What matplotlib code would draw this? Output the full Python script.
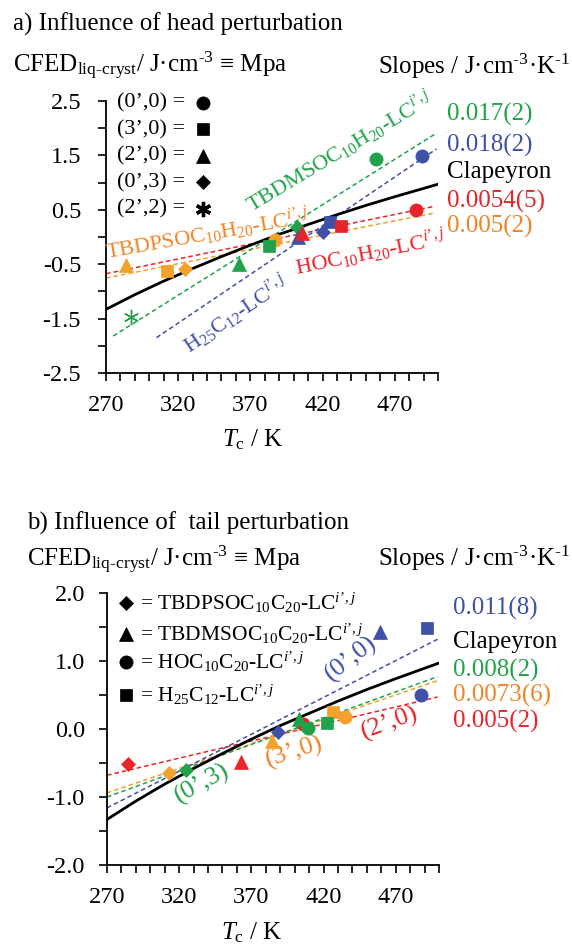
import numpy as np
import matplotlib
matplotlib.use('Agg')
import matplotlib.pyplot as plt

plt.rcParams['font.family'] = ['Liberation Serif', 'DejaVu Serif']
plt.rcParams['mathtext.fontset'] = 'custom'
plt.rcParams['mathtext.rm'] = 'Liberation Serif'
plt.rcParams['mathtext.it'] = 'Liberation Serif:italic'
plt.rcParams['mathtext.bf'] = 'Liberation Serif:bold'
plt.rcParams['axes.unicode_minus'] = False

# ============================================================================
# data
# ============================================================================

GREEN = '#1fa24a'
BLUE = '#3f50a6'
RED = '#e8232a'
ORANGE = '#f2a22c'
ORANGE_TXT = '#f28424'

# Clapeyron curve (same in both panels)
clap_T = [270, 290, 310, 330, 350, 370, 390, 410, 430, 450, 470, 500]
clap_y = [-1.33, -1.06, -0.81, -0.58, -0.36, -0.15, 0.05, 0.23, 0.41, 0.58, 0.74, 0.97]

# --- a) head perturbation: colour = compound, marker = perturbation
a_orange_T = [284, 312.6, 324.8, 387]
a_orange_y = [-0.51, -0.63, -0.59, -0.06]
a_orange_m = ['^', 's', 'D', 'o']

a_green_T = [287, 362, 383, 402, 457]
a_green_y = [-1.47, -0.49, -0.16, 0.18, 1.44]
a_green_m = ['*', '^', 's', 'D', 'o']

a_blue_T = [403, 420, 425, 489]
a_blue_y = [0.0, 0.10, 0.28, 1.48]
a_blue_m = ['^', 'D', 's', 'o']

a_red_T = [406, 432.5, 485]
a_red_y = [0.07, 0.20, 0.50]
a_red_m = ['^', 's', 'o']

# fitted lines (start / end)
a_fit_green = ([275, 499], [-1.82, 1.91])
a_fit_blue = ([305, 499], [-1.85, 1.62])
a_fit_red = ([270, 498], [-0.675, 0.566])
a_fit_orange = ([270, 498], [-0.754, 0.444])

a_legend_labels = ['(0’,0) =', '(3’,0) =', '(2’,0) =', '(0’,3) =', '(2’,2) =']
a_legend_markers = ['o', 's', '^', 'D', '*']

a_slopes = ['0.017(2)', '0.018(2)', 'Clapeyron', '0.0054(5)', '0.005(2)']
a_slope_colors = [GREEN, BLUE, 'black', RED, ORANGE_TXT]

# --- b) tail perturbation: colour = perturbation, marker = compound
b_red_T = [284.8, 363, 406]
b_red_y = [-0.52, -0.49, 0.08]
b_red_m = ['D', '^', 'o']

b_orange_T = [313, 384, 426.4, 435]
b_orange_y = [-0.64, -0.18, 0.25, 0.17]
b_orange_m = ['D', '^', 's', 'o']

b_green_T = [325, 403.3, 409.5, 422.3]
b_green_y = [-0.60, 0.14, 0.02, 0.09]
b_green_m = ['D', '^', 'o', 's']

b_blue_T = [388.3, 459.2, 487.4, 491.5]
b_blue_y = [-0.04, 1.43, 0.50, 1.48]
b_blue_m = ['D', '^', 'o', 's']

b_fit_blue = ([270, 499], [-1.16, 1.32])
b_fit_green = ([270, 499], [-1.00, 0.77])
b_fit_orange = ([270, 499], [-0.94, 0.71])
b_fit_red = ([270, 499], [-0.68, 0.47])

b_legend_labels = ['= TBDPSOC$_{10}$C$_{20}$-LC$^{i’,j}$',
                   '= TBDMSOC$_{10}$C$_{20}$-LC$^{i’,j}$',
                   '= HOC$_{10}$C$_{20}$-LC$^{i’,j}$',
                   '= H$_{25}$C$_{12}$-LC$^{i’,j}$']
b_legend_markers = ['D', '^', 'o', 's']

b_slopes = ['0.011(8)', 'Clapeyron', '0.008(2)', '0.0073(6)', '0.005(2)']
b_slope_colors = [BLUE, 'black', GREEN, ORANGE_TXT, RED]

# ============================================================================
# helpers
# ============================================================================

W, H = 572, 944


def fx(px):
    return px / W


def fy(py):
    return 1 - py / H


def marker_kw(m, color, thin=True):
    if m == '*':
        return dict(marker=(6, 2, 0), ms=11, mew=1.0 if thin else 2.4,
                    mec=color, mfc=color)
    size = {'o': 9.5, 's': 9, '^': 9.5, 'D': 7.5}[m]
    return dict(marker=m, ms=size, mec=color, mfc=color, mew=0.5)


def draw_points(ax, T, y, markers, color):
    for t, v, m in zip(T, y, markers):
        ax.plot([t], [v], linestyle='none', zorder=4, **marker_kw(m, color))


def style_axes(ax, ymin, ymax, ymajor, yminor, ypad):
    ax.set_xlim(270, 500)
    ax.set_ylim(ymin, ymax)
    for s in ['top', 'right']:
        ax.spines[s].set_visible(False)
    for s in ['left', 'bottom']:
        ax.spines[s].set_linewidth(1.3)
    ax.set_xticks([270, 320, 370, 420, 470])
    ax.set_xticks(np.arange(270, 501, 10), minor=True)
    ax.set_yticks(ymajor)
    ax.set_yticklabels([f'{v:.1f}' for v in ymajor])
    ax.set_yticks(yminor, minor=True)
    ax.tick_params(which='both', direction='out', length=6, width=1.2,
                   labelsize=17.5)
    ax.tick_params(axis='x', which='both', pad=10)
    ax.tick_params(axis='y', which='both', pad=ypad)


fig = plt.figure(figsize=(W / 100, H / 100), dpi=100)

# ============================================================================
# a) Influence of head perturbation
# ============================================================================

ax = fig.add_axes([fx(106), fy(373), 332 / W, 272 / H])
style_axes(ax, -2.5, 2.5, [-2.5, -1.5, -0.5, 0.5, 1.5, 2.5],
           [-2.0, -1.0, 0.0, 1.0, 2.0], 12)

for (xs, ys), c in [(a_fit_red, RED), (a_fit_orange, ORANGE),
                    (a_fit_green, GREEN), (a_fit_blue, BLUE)]:
    ax.plot(xs, ys, color=c, lw=1.1, ls=(0, (3, 2)), zorder=2)
ax.plot(clap_T, clap_y, color='black', lw=2.0, zorder=3)

draw_points(ax, a_orange_T, a_orange_y, a_orange_m, ORANGE)
draw_points(ax, a_green_T, a_green_y, a_green_m, GREEN)
draw_points(ax, a_blue_T, a_blue_y, a_blue_m, BLUE)
draw_points(ax, a_red_T, a_red_y, a_red_m, RED)

# legend (text then marker)
for i, (lab, m) in enumerate(zip(a_legend_labels, a_legend_markers)):
    yy = 0.993 - 0.0975 * i
    ax.text(0.033, yy, lab, transform=ax.transAxes, fontsize=16,
            ha='left', va='center')
    ax.plot([0.292], [yy], transform=ax.transAxes, clip_on=False,
            linestyle='none', **marker_kw(m, 'black', thin=False))

# compound labels along the lines
ax.text(432, 1.56, 'TBDMSOC$_{10}$H$_{20}$-LC$^{i’,j}$', color=GREEN,
        fontsize=16, rotation=31, ha='center', va='center', rotation_mode='anchor')
ax.text(340, 0.06, 'TBDPSOC$_{10}$H$_{20}$-LC$^{i’,j}$', color=ORANGE_TXT,
        fontsize=16, rotation=10, ha='center', va='center', rotation_mode='anchor')
ax.text(360, -1.43, 'H$_{25}$C$_{12}$-LC$^{i’,j}$', color=BLUE,
        fontsize=16, rotation=34, ha='center', va='center', rotation_mode='anchor')
ax.text(453, -0.30, 'HOC$_{10}$H$_{20}$-LC$^{i’,j}$', color=RED,
        fontsize=16, rotation=11.5, ha='center', va='center', rotation_mode='anchor')

for i, (lab, c) in enumerate(zip(a_slopes, a_slope_colors)):
    yy = [0.949, 0.838, 0.739, 0.629, 0.537][i]
    ax.text(1.027, yy, lab, transform=ax.transAxes, color=c, fontsize=18,
            ha='left', va='center')

fig.text(fx(13), fy(24), 'a) Influence of head perturbation', fontsize=18,
         ha='left', va='center')
fig.text(fx(13), fy(66), 'CFED$_{\\mathrm{liq‐cryst}}$/ J·cm$^{\\mathrm{‐3}}$ ≡ Mpa',
         fontsize=18, ha='left', va='center')
fig.text(fx(570), fy(66), 'Slopes / J·cm$^{\\mathrm{‐3}}$·K$^{\\mathrm{‐1}}$',
         fontsize=18, ha='right', va='center')
fig.text(fx(253), fy(440), '$T_{\\mathrm{c}}$ / K', fontsize=18,
         ha='center', va='center')

# ============================================================================
# b) Influence of tail perturbation
# ============================================================================

ax = fig.add_axes([fx(107), fy(865), 332 / W, 272 / H])
style_axes(ax, -2.0, 2.0, [-2.0, -1.0, 0.0, 1.0, 2.0],
           [-1.5, -0.5, 0.5, 1.5], 10)

for (xs, ys), c in [(b_fit_red, RED), (b_fit_orange, ORANGE),
                    (b_fit_green, GREEN), (b_fit_blue, BLUE)]:
    ax.plot(xs, ys, color=c, lw=1.1, ls=(0, (3, 2)), zorder=2)
ax.plot(clap_T, clap_y, color='black', lw=2.0, zorder=3)

draw_points(ax, b_red_T, b_red_y, b_red_m, RED)
draw_points(ax, b_orange_T, b_orange_y, b_orange_m, ORANGE)
draw_points(ax, b_green_T, b_green_y, b_green_m, GREEN)
draw_points(ax, b_blue_T, b_blue_y, b_blue_m, BLUE)

# legend (marker then text)
for i, (lab, m) in enumerate(zip(b_legend_labels, b_legend_markers)):
    yy = [0.963, 0.849, 0.746, 0.625][i]
    ax.plot([0.057], [yy], transform=ax.transAxes, clip_on=False,
            linestyle='none', **marker_kw(m, 'black', thin=False))
    ax.text(0.100, yy, lab, transform=ax.transAxes, fontsize=15.5,
            ha='left', va='center')

ax.text(439, 1.04, '(0’,0)', color=BLUE, fontsize=19, rotation=38,
        ha='center', va='center', rotation_mode='anchor')
ax.text(465.6, 0.09, '(2’,0)', color=RED, fontsize=19, rotation=20,
        ha='center', va='center', rotation_mode='anchor')
ax.text(399.6, -0.33, '(3’,0)', color=ORANGE_TXT, fontsize=19, rotation=18,
        ha='center', va='center', rotation_mode='anchor')
ax.text(336, -0.80, '(0’,3)', color=GREEN, fontsize=19, rotation=29,
        ha='center', va='center', rotation_mode='anchor')

for i, (lab, c) in enumerate(zip(b_slopes, b_slope_colors)):
    yy = [0.945, 0.821, 0.717, 0.625, 0.527][i]
    ax.text(1.042, yy, lab, transform=ax.transAxes, color=c, fontsize=18,
            ha='left', va='center')

fig.text(fx(27), fy(523), 'b) Influence of  tail perturbation', fontsize=18,
         ha='left', va='center')
fig.text(fx(27), fy(560), 'CFED$_{\\mathrm{liq‐cryst}}$/ J·cm$^{\\mathrm{‐3}}$ ≡ Mpa',
         fontsize=18, ha='left', va='center')
fig.text(fx(570), fy(558), 'Slopes / J·cm$^{\\mathrm{‐3}}$·K$^{\\mathrm{‐1}}$',
         fontsize=18, ha='right', va='center')
fig.text(fx(252), fy(933), '$T_{\\mathrm{c}}$ / K', fontsize=18,
         ha='center', va='center')

plt.savefig('out.png', dpi=100)
